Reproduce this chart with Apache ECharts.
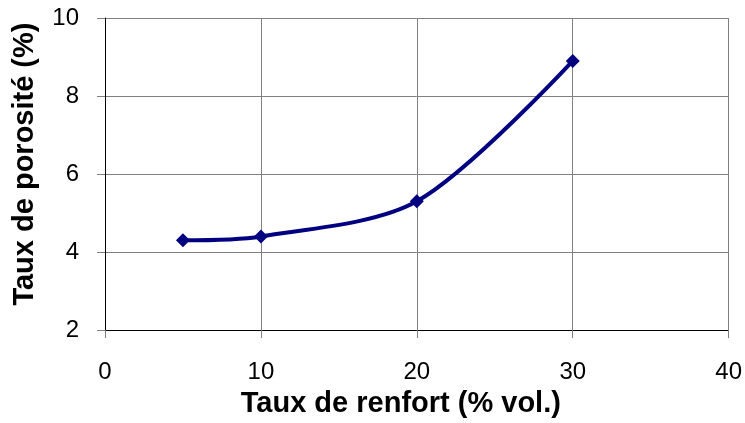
<!DOCTYPE html>
<html>
<head>
<meta charset="utf-8">
<script src="https://cdn.jsdelivr.net/npm/echarts@6/dist/echarts.min.js"></script>
<style>
  html, body { margin: 0; padding: 0; background: #fff; }
  #chart { width: 745px; height: 423px; }
</style>
</head>
<body>
<div id="chart"></div>
<script>
// Porosity rate versus reinforcement content
const renfort = [5, 10, 20, 30];          // % vol.
const porosite = [4.3, 4.4, 5.3, 8.9];    // %
const xTitle = 'Taux de renfort (% vol.)';
const yTitle = 'Taux de porosité (%)';

const font = 'Liberation Sans, Arial, sans-serif';
const chart = echarts.init(document.getElementById('chart'));

chart.setOption({
  animation: false,
  backgroundColor: '#ffffff',
  grid: { left: 105, right: 15, top: 18, bottom: 91, containLabel: false },
  xAxis: {
    type: 'value',
    min: 0, max: 40, interval: 10,
    name: xTitle,
    nameLocation: 'middle',
    nameGap: 56,
    nameTextStyle: { fontFamily: font, fontSize: 29, fontWeight: 'bold', color: '#000', padding: [0, 32, 0, 0] },
    axisLine: { show: true, onZero: false, lineStyle: { color: '#000', width: 1 } },
    axisTick: { show: true, length: 8, lineStyle: { color: '#808080' } },
    axisLabel: { fontFamily: font, fontSize: 24, color: '#000', margin: 30 },
    splitLine: { show: true, lineStyle: { color: '#808080', width: 1 } }
  },
  yAxis: {
    type: 'value',
    min: 2, max: 10, interval: 2,
    name: yTitle,
    nameLocation: 'middle',
    nameGap: 66,
    nameRotate: 90,
    nameTextStyle: { fontFamily: font, fontSize: 29, fontWeight: 'bold', color: '#000', padding: [0, 0, 0, 20] },
    axisLine: { show: true, onZero: false, lineStyle: { color: '#000', width: 1 } },
    axisTick: { show: true, length: 8, lineStyle: { color: '#808080' } },
    axisLabel: { fontFamily: font, fontSize: 24, color: '#000', margin: 26 },
    splitLine: { show: true, lineStyle: { color: '#808080', width: 1 } }
  },
  series: [{
    type: 'line',
    data: renfort.map((x, i) => [x, porosite[i]]),
    smooth: 0.3,
    symbol: 'diamond',
    symbolSize: 14,
    lineStyle: { color: '#000080', width: 4 },
    itemStyle: { color: '#000080' }
  }]
});
</script>
</body>
</html>
